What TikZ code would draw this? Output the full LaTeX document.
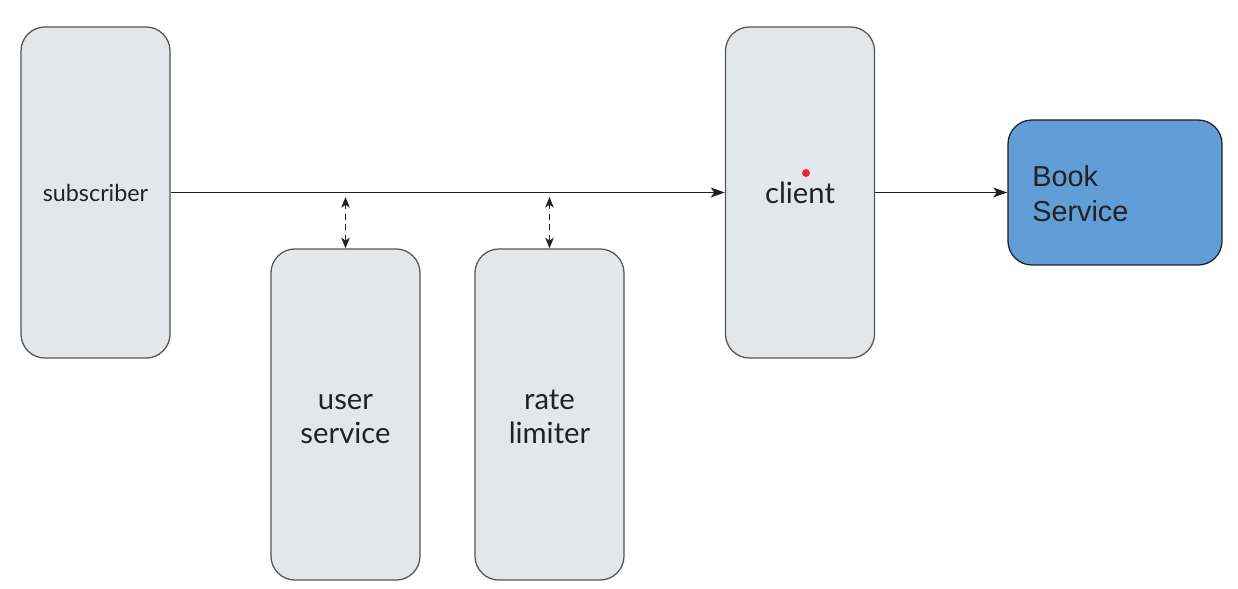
\documentclass[tikz,border=0pt]{standalone}
\usepackage{fontspec}
\setmainfont{Lato}
\newfontfamily\bookfont{Liberation Sans}
\usetikzlibrary{arrows.meta,positioning}
\definecolor{boxgray}{HTML}{E4E7EA}
\definecolor{boxline}{HTML}{555555}
\definecolor{bookblue}{HTML}{619DD6}
\definecolor{textdark}{HTML}{222222}
\definecolor{dotred}{HTML}{E8273A}
\tikzset{
  box/.style={draw=boxline, fill=boxgray, line width=0.9pt, rounded corners=0.6cm,
    minimum width=3.725cm, minimum height=8.275cm, align=center, text=textdark,
    font=\fontsize{20.8}{24.5}\selectfont},
  twoline/.style={text height=41.5pt, text depth=0pt},
  bookbox/.style={draw=textdark, fill=bookblue, line width=0.9pt, rounded corners=0.6cm,
    minimum width=5.35cm, minimum height=3.625cm},
  link/.style={draw=textdark, line width=0.9pt},
  tip/.style={-{Stealth[length=10pt,width=7pt,inset=2.5pt]}},
  duplex/.style={{Stealth[length=7.5pt,width=6pt,inset=2pt]}-{Stealth[length=7.5pt,width=6pt,inset=2pt]},
    dash pattern=on 4.5pt off 3pt},
}

\begin{document}
\begin{tikzpicture}[x=0.025cm,y=-0.025cm]
    \useasboundingbox (0,0) rectangle (1238,588);
    \node[box, font=\fontsize{16.6}{20}\selectfont] (sub) at (95.5,192.5) {subscriber};
    \node[box, twoline] (user) at (345.5,414.5) {user\\service};
    \node[box, twoline] (rate) at (549.5,414.5) {rate\\limiter};
    \node[box] (client) at (800,192.5) {client};
    \node[bookbox] (book) at (1115,192.5) {};
    \node[anchor=west, align=left, inner sep=0pt, text=textdark,
      font=\bookfont\fontsize{20.5}{25}\selectfont] (booktext) at (1032,194) {Book\\Service};
    \node[circle, fill=dotred, inner sep=0pt, minimum size=0.2cm] (dot) at (806,173) {};

    \coordinate (userin) at (345.5,197);
    \coordinate (ratein) at (549.5,197);

    \draw[link, tip] (sub) -- (client);
    \draw[link, tip] (client) -- (book);
    \draw[link, duplex] (user.north) -- (userin);
    \draw[link, duplex] (rate.north) -- (ratein);
  \end{tikzpicture}
\end{document}
